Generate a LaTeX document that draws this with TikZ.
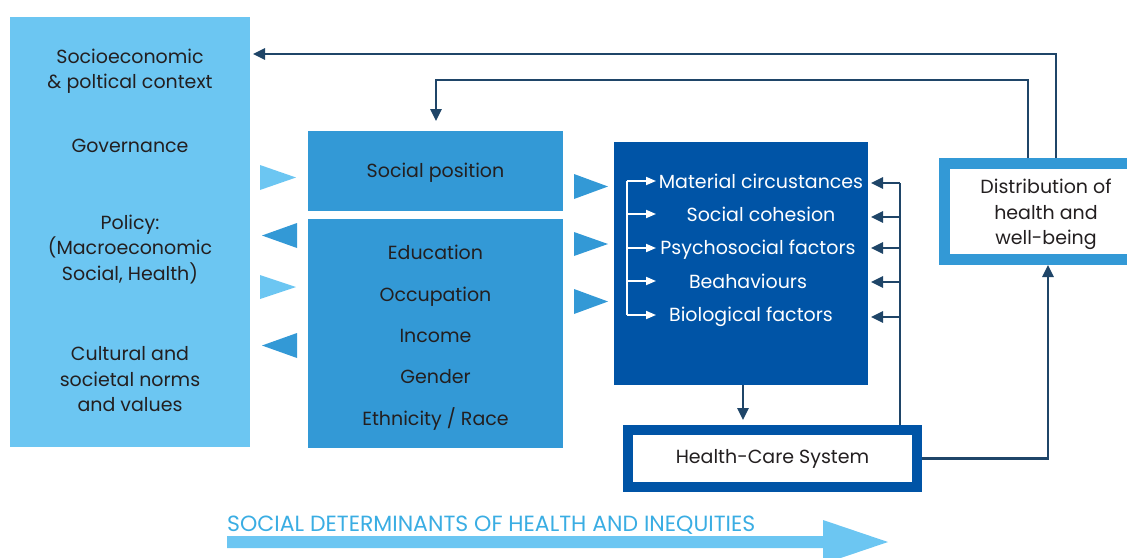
\documentclass[tikz,border=0pt]{standalone}
\usepackage{fontspec}
\setmainfont{Poppins}
\usetikzlibrary{arrows.meta,calc}
\definecolor{lightb}{HTML}{6CC6F2}
\definecolor{midb}{HTML}{3399D6}
\definecolor{darkb}{HTML}{0054A6}
\definecolor{navy}{HTML}{1F4568}
\definecolor{txt}{HTML}{231F20}
\definecolor{titleb}{HTML}{3AADE3}
\begin{document}
\begin{tikzpicture}[x=1pt,y=-1pt,
  lbl/.style={font=\fontsize{19}{25.5}\selectfont, text=txt, align=center, inner sep=0pt},
  wlbl/.style={font=\fontsize{19}{20}\selectfont, text=white, inner sep=0pt},
  panel/.style={inner sep=0pt, anchor=north west},
  conn/.style={draw=navy, line width=2.6pt, -{Triangle[length=12pt,width=11pt]}},
  navyline/.style={draw=navy, line width=2.6pt},
  wconn/.style={draw=white, line width=1.8pt, -{Triangle[length=10pt,width=8pt]}},
  wline/.style={draw=white, line width=1.8pt},
  tri/.style={fill=#1, draw=none}
]
\useasboundingbox (0,0) rectangle (1127,557);

% left context panel
\node (ctx) [panel, fill=lightb, minimum width=240pt, minimum height=430pt] at (10,17) {};
\node (ctx1) [lbl] at (130,71) {Socioeconomic\\\& poltical context};
\node (ctx2) [lbl] at (130,146) {Governance};
\node (ctx3) [lbl] at (130,249.5) {Policy:\\(Macroeconomic\\Social, Health)};
\node (ctx4) [lbl] at (130,379.5) {Cultural and\\societal norms\\and values};

% social position boxes
\node (sp) [panel, fill=midb, minimum width=255pt, minimum height=80pt] at (308,131) {};
\node (spt) [lbl] at (435.5,173) {Social position};
\node (strat) [panel, fill=midb, minimum width=255pt, minimum height=229pt] at (308,219) {};
\node (st1) [lbl] at (435.5,252) {Education};
\node (st2) [lbl] at (435.5,297) {Occupation};
\node (st3) [lbl] at (435.5,336) {Income};
\node (st4) [lbl] at (435.5,377) {Gender};
\node (st5) [lbl] at (435.5,419) {Ethnicity / Race};

% triangles between panels
\fill[tri=lightb] (260,165) -- (296,177.5) -- (260,190) -- cycle;
\fill[tri=midb] (297,223) -- (262,235.5) -- (297,248) -- cycle;
\fill[tri=lightb] (260,275) -- (296,287) -- (260,299) -- cycle;
\fill[tri=midb] (297,333) -- (262,345.5) -- (297,358) -- cycle;
\fill[tri=midb] (574,174) -- (608,186.5) -- (574,199) -- cycle;
\fill[tri=midb] (574,232) -- (608,244) -- (574,256) -- cycle;
\fill[tri=midb] (574,289) -- (608,301.5) -- (574,314) -- cycle;

% intermediary determinants box
\node (inter) [panel, fill=darkb, minimum width=254pt, minimum height=243pt] at (614,142) {};
\node (i1) [wlbl] at (761,181) {Material circustances};
\node (i2) [wlbl] at (761,214) {Social cohesion};
\node (i3) [wlbl] at (758,250) {Psychosocial factors};
\node (i4) [wlbl] at (748,281) {Beahaviours};
\node (i5) [wlbl] at (751,317) {Biological factors};
\coordinate (bt) at (627,181);
\coordinate (bb) at (627,315);
\draw[wline] (bt) -- (bb);
\foreach \yy in {181,214,248,281,315}{
  \draw[wconn] (627,\yy) -- (656,\yy);
}

% health-care system
\node (hcs) [draw=darkb, line width=10pt, fill=white, minimum width=289pt, minimum height=57pt, inner sep=0pt,
  font=\fontsize{19}{20}\selectfont, text=txt] at (772.5,458.5) {\raisebox{-2pt}{Health-Care System}};
\draw[conn] (inter.south -| 743,0) -- (743,420);

% feedback from health care system into intermediary determinants
\coordinate (hcstop) at (900,425);
\coordinate (rtop) at (900,183);
\draw[navyline] (hcstop) -- (rtop);
\foreach \yy in {183,217,248,282,317}{
  \draw[conn] (900,\yy) -- (871,\yy);
}

% distribution box
\fill[midb] (939,158) rectangle (1127,265);
\fill[white] (950,169) rectangle (1127,254);
\node (distbox) [panel, minimum width=188pt, minimum height=107pt] at (939,158) {};
\node (dist) [lbl] at (1046,214.5) {Distribution of\\health and\\well-being};

% connector health care -> distribution
\coordinate (hcsE) at (922,458.5);
\coordinate (distS) at (1048,265);
\draw[conn] (hcsE) -| (distS);

% feedback lines
\coordinate (f1) at (1056,158);
\coordinate (f1tip) at (253,54);
\draw[conn] (f1) |- (f1tip);
\coordinate (f2) at (1028,158);
\coordinate (f2c) at (436,80);
\coordinate (f2tip) at (436,121);
\draw[conn] (f2) |- (f2c) -- (f2tip);

% bottom arrow
\node (title) [anchor=west, inner sep=0pt, font=\fontsize{22}{24}\selectfont, text=titleb] at (227,525) {SOCIAL DETERMINANTS OF HEALTH AND INEQUITIES};
\fill[lightb] (227,536) -- (823,536) -- (823,520) -- (888,542) -- (823,564) -- (823,548) -- (227,548) -- cycle;
\end{tikzpicture}
\end{document}
